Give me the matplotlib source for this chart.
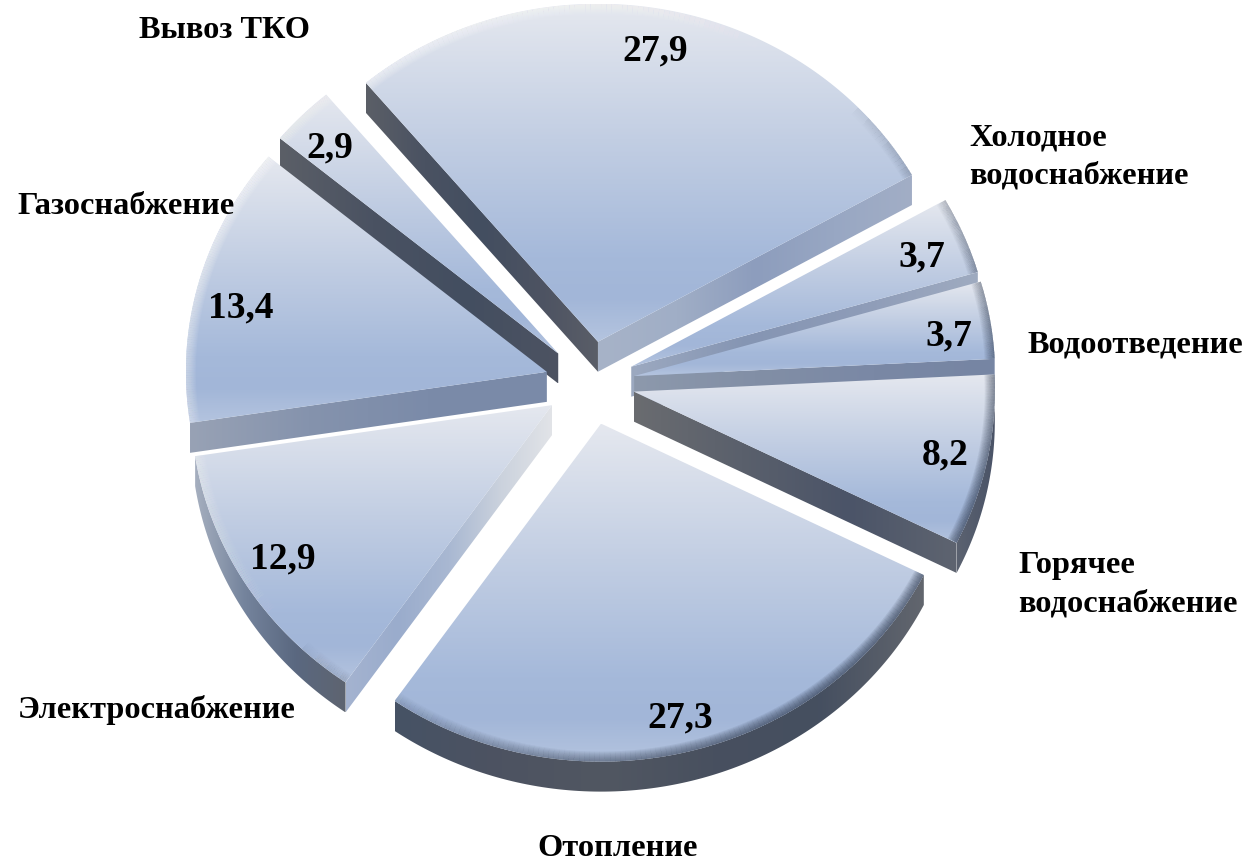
import numpy as np
from matplotlib import pyplot as plt
from matplotlib.collections import LineCollection
from matplotlib.colors import LinearSegmentedColormap
from matplotlib.patches import Polygon

# shares, clockwise from the top-left edge of the biggest slice
values = [27.9, 3.7, 3.7, 8.2, 27.3, 12.9, 13.4, 2.9]
value_labels = ['27,9', '3,7', '3,7', '8,2', '27,3', '12,9', '13,4', '2,9']
categories = ['Вывоз ТКО', 'Холодное\nводоснабжение', 'Водоотведение',
              'Горячее\nводоснабжение', 'Отопление', 'Электроснабжение',
              'Газоснабжение']

# pixel layout of the reference
W, H = 1250, 863
CX, CY = 590, 383
RX, RY = 361, 338
START = 130.0
EXPLODE = 0.124
DEPTH = 30 / RY

value_xy = [(655, 51), (922, 257), (949, 336), (945, 455),
            (680, 718), (283, 559), (241, 308), (330, 148)]
category_xy = [(139, 31, 'left'), (969, 157, 'left'), (1028, 345, 'left'),
               (1018, 585, 'left'), (618, 848, 'center'), (18, 710, 'left'),
               (17, 207, 'left')]

top_cmap = LinearSegmentedColormap.from_list('top', [
    (0.0, '#e5e8ef'), (0.4, '#c2cee3'), (0.75, '#a5b9da'),
    (0.87, '#a2b6d8'), (1.0, '#b4c4df')])

# wall shades left to right, per slice: start edge, end edge, rim
dark = ['#5b5f67', '#4a5262', '#434e60', '#4d5362', '#5a5e68']
wall_shades = [
    (dark, ['#a7b3c8', '#a0aec6', '#8d9dbd', '#98a7c3', '#a2aec6'], None),
    (None, ['#9ca9c0', '#8595b3', '#8e9cb8', '#9fabc0'], None),
    (None, ['#8d99ac', '#828fa6', '#7a88a5', '#7685a3'], None),
    (None, ['#6a6c70', '#5a606c', '#4b5468', '#5e6470'], ['#5b6270', '#4a5367']),
    (None, None, ['#465265', '#4d5361', '#515762', '#48505f', '#454f60', '#62666e']),
    (['#a4b3d0', '#9aaccc', '#a9b8d2', '#cbd2dd', '#e2e4e8'], None,
     ['#a6afbf', '#74839c', '#5a6880', '#5e6470']),
    (['#98a2b5', '#8593ad', '#7b8ba9', '#7a8aa8'], None, None),
    (['#5b5f67', '#4a5262', '#434e60', '#4d5362'], None, None),
]


def h_gradient(ax, poly, colors):
    # horizontal shade clipped to the wall polygon
    cmap = LinearSegmentedColormap.from_list('wall', colors)
    patch = Polygon(poly, closed=True, fc='none', ec='none')
    ax.add_patch(patch)
    xs, ys = poly[:, 0], poly[:, 1]
    im = ax.imshow(np.linspace(0, 1, 256)[None, :], cmap=cmap, aspect='auto',
                   extent=(xs.min(), xs.max(), ys.min(), ys.max()),
                   interpolation='bilinear', zorder=ax.order)
    im.set_clip_path(patch)
    ax.order += 1


def draw_slice(ax, t0, t1, shades):
    mid = np.radians((t0 + t1) / 2)
    ox, oy = EXPLODE * np.cos(mid), EXPLODE * np.sin(mid)
    ts = np.radians(np.linspace(t0, t1, 120))
    arc = np.column_stack([ox + np.cos(ts), oy + np.sin(ts)])
    apex = np.array([ox, oy])
    down = np.array([0, DEPTH])

    start_shade, end_shade, rim_shade = shades
    if rim_shade:
        h_gradient(ax, np.vstack([arc, arc[::-1] - down]), rim_shade)
    if start_shade:
        edge = np.array([apex, arc[0]])
        h_gradient(ax, np.vstack([edge, edge[::-1] - down]), start_shade)
    if end_shade:
        edge = np.array([apex, arc[-1]])
        h_gradient(ax, np.vstack([edge, edge[::-1] - down]), end_shade)

    # top face
    top = np.vstack([apex, arc])
    patch = Polygon(top, closed=True, fc='none', ec='none')
    ax.add_patch(patch)
    im = ax.imshow(np.linspace(0, 1, 256)[:, None], cmap=top_cmap, aspect='auto',
                   extent=(top[:, 0].min(), top[:, 0].max(),
                           top[:, 1].min(), top[:, 1].max()),
                   interpolation='bilinear', zorder=ax.order)
    im.set_clip_path(patch)
    ax.order += 1

    # soft bevel along the rim: white towards upper left, dark towards lower right
    segs = np.stack([arc[:-1], arc[1:]], axis=1)
    tm = (ts[:-1] + ts[1:]) / 2
    s = (-np.cos(tm) + np.sin(tm)) / np.sqrt(2)
    rgba = np.zeros((len(tm), 4))
    rgba[s >= 0, :3] = (1, 1, 1)
    rgba[s < 0, :3] = (0.17, 0.21, 0.29)
    rgba[:, 3] = np.where(s >= 0, 0.08 * s, -0.09 * s)
    for lw in np.arange(1.0, 16.0, 1.5):
        lc = LineCollection(segs, colors=rgba, linewidths=lw, zorder=ax.order,
                            capstyle='butt')
        ax.add_collection(lc)
        lc.set_clip_path(patch)
        ax.order += 1


fig = plt.figure(figsize=(W / 100, H / 100), dpi=100)
ax = fig.add_axes([0, 0, 1, 1])
ax.order = 1

fractions = np.array(values) / sum(values) * 360
edges = START - np.concatenate([[0], np.cumsum(fractions)])
spans = list(zip(edges[:-1], edges[1:], wall_shades))

# back slices first
spans.sort(key=lambda p: -np.sin(np.radians((p[0] + p[1]) / 2)))
for t0, t1, shades in spans:
    draw_slice(ax, t0, t1, shades)

ax.set_xlim(-CX / RX, (W - CX) / RX)
ax.set_ylim((CY - H) / RY, CY / RY)
ax.axis('off')

serif = dict(family='Liberation Serif', weight='bold', color='black')
for label, (x, y) in zip(value_labels, value_xy):
    fig.text(x / W, 1 - y / H, label, fontsize=27, ha='center', va='center',
             zorder=50, **serif)
for label, (x, y, ha) in zip(categories, category_xy):
    fig.text(x / W, 1 - y / H, label, fontsize=23.3, ha=ha, va='center',
             linespacing=1.42, zorder=50, **serif)

plt.savefig('out.png', dpi=100)
